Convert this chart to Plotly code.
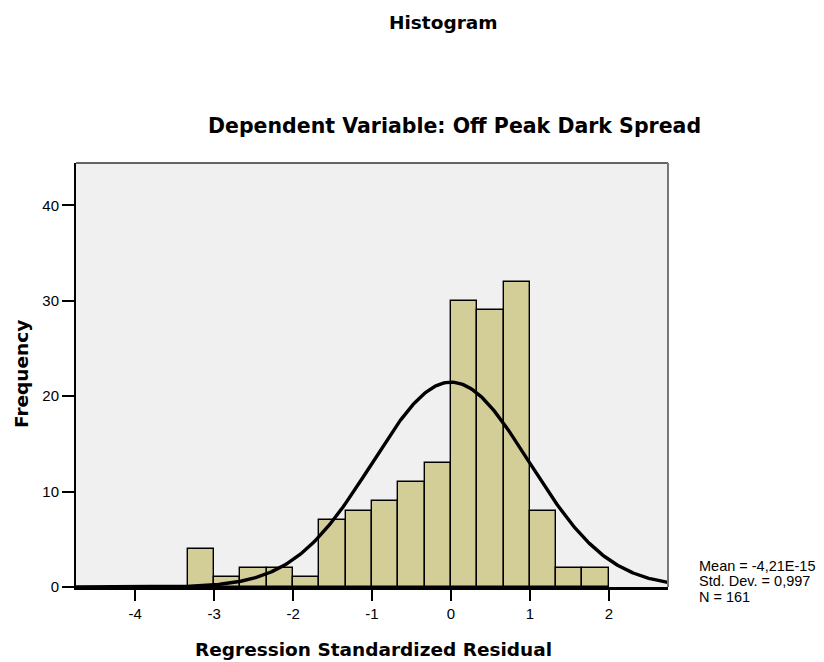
import numpy as np
import plotly.graph_objects as go

# ---- data ----
bin_width = 1.0 / 3.0
bin_starts = [-10/3, -3, -8/3, -7/3, -2, -5/3, -4/3, -1, -2/3, -1/3, 0, 1/3, 2/3, 1, 4/3, 5/3]
frequencies = [4, 1, 2, 2, 1, 7, 8, 9, 11, 13, 30, 29, 32, 8, 2, 2]
mean_val = -4.21e-15
std_val = 0.997
n_obs = 161
x_ticks = [-4, -3, -2, -1, 0, 1, 2]
y_ticks = [0, 10, 20, 30, 40]
stats_lines = ["Mean = -4,21E-15", "Std. Dev. = 0,997", "N = 161"]

# ---- layout geometry ----
W, H = 824, 662
L, R, T, B = 76, 668, 163, 587
x_range = [-4.75, 2.75]
y_range = [0, 44.45]

def px(x):
    return (x - L) / (R - L)

def py(y):
    return (B - y) / (B - T)

centers = [s + bin_width / 2 for s in bin_starts]

# fitted normal curve (scaled to counts)
xs = np.linspace(x_range[0], x_range[1], 400)
ys = n_obs * bin_width * np.exp(-0.5 * ((xs - mean_val) / std_val) ** 2) / (std_val * np.sqrt(2 * np.pi))

fig = go.Figure()
fig.add_trace(go.Bar(
    x=centers, y=frequencies, width=bin_width,
    marker=dict(color="#D3CE97", line=dict(color="black", width=1.4)),
    hoverinfo="skip",
))
fig.add_trace(go.Scatter(
    x=xs, y=ys, mode="lines",
    line=dict(color="black", width=3.4),
    hoverinfo="skip", cliponaxis=True,
))

font_family = "Liberation Sans, Arial, sans-serif"
title_family = "DejaVu Sans, sans-serif"

fig.update_layout(
    width=W, height=H,
    margin=dict(l=L, r=W - R, t=T, b=H - B, pad=0),
    paper_bgcolor="white",
    plot_bgcolor="#F0F0F0",
    showlegend=False,
    bargap=0,
    font=dict(family=font_family, color="black", size=15),
    xaxis=dict(
        range=x_range, tickvals=x_ticks, ticktext=[str(v) for v in x_ticks],
        showgrid=False, zeroline=False,
        showline=True, linecolor="black", linewidth=3,
        ticks="outside", ticklen=11, tickwidth=2, tickcolor="black",
        tickfont=dict(size=15, family=font_family, color="black"),
    ),
    yaxis=dict(
        range=y_range, tickvals=y_ticks, ticktext=[str(v) for v in y_ticks],
        showgrid=False, zeroline=False,
        showline=True, linecolor="black", linewidth=2,
        ticks="outside", ticklen=12, tickwidth=2, tickcolor="black",
        tickfont=dict(size=15, family=font_family, color="black"),
    ),
    shapes=[
        dict(type="line", xref="paper", yref="paper", x0=0, x1=1, y0=1, y1=1,
             line=dict(color="#333333", width=1.5)),
        dict(type="line", xref="paper", yref="paper", x0=1, x1=1, y0=0, y1=1,
             line=dict(color="#777777", width=2)),
    ],
)

annotations = [
    dict(text="<b>Histogram</b>", x=px(443), y=py(22), font=dict(size=18.5)),
    dict(text="<b>Dependent Variable: Off Peak Dark Spread</b>", x=px(454), y=py(126), font=dict(size=20.5)),
    dict(text="<b>Regression Standardized Residual</b>", x=px(373), y=py(649), font=dict(size=18.5)),
    dict(text="<b>Frequency</b>", x=px(21), y=py(374), font=dict(size=18.5), textangle=-90),
]
for a in annotations:
    a.update(xref="paper", yref="paper", showarrow=False, xanchor="center", yanchor="middle")
    a["font"].update(family=title_family, color="black")
    fig.add_annotation(**a)

for i, line in enumerate(stats_lines):
    fig.add_annotation(
        text=line, xref="paper", yref="paper", x=px(697), y=py(565.5 + i * 15.6),
        xanchor="left", yanchor="middle", showarrow=False,
        font=dict(size=14.5, family=font_family, color="black"),
    )

fig.write_html("out.html")
